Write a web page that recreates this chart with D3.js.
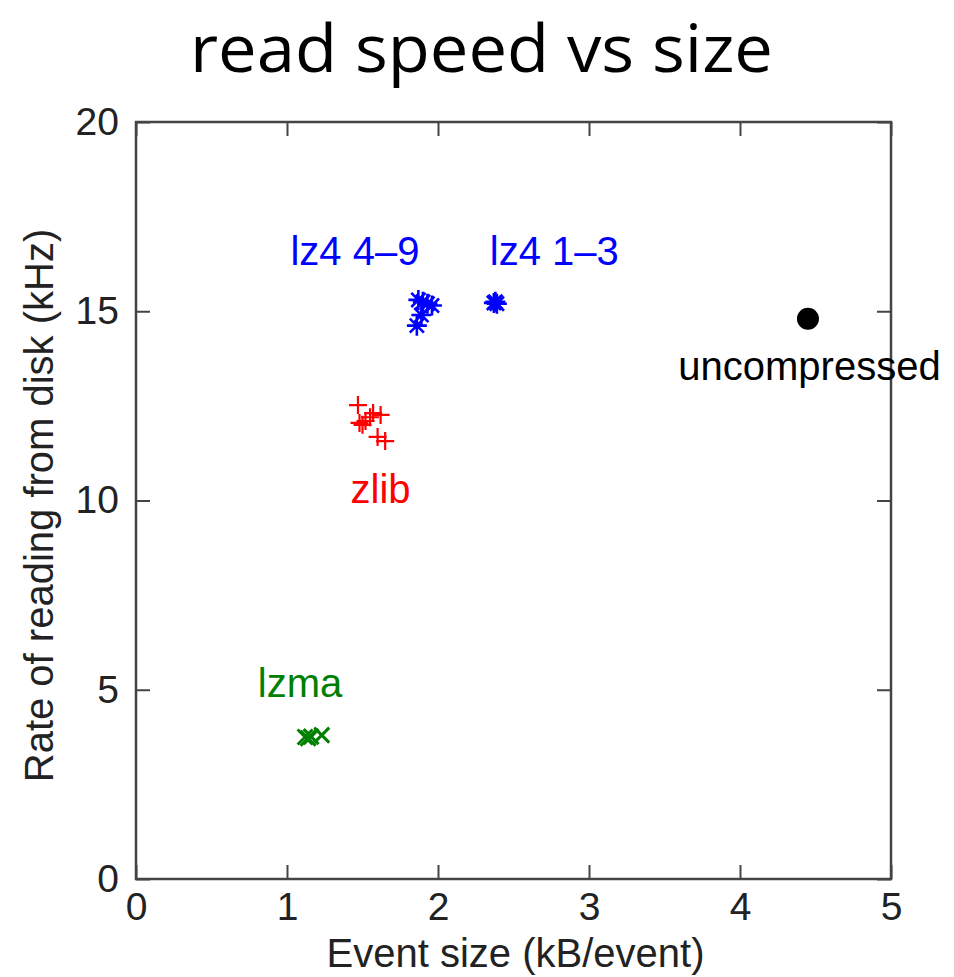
<!DOCTYPE html>
<html>
<head>
<meta charset="utf-8">
<script src="https://cdn.jsdelivr.net/npm/d3@7"></script>
<style>
body { margin: 0; background: #fff; }
svg { display: block; }
</style>
</head>
<body>
<div id="chart"></div>
<script>
// ---- data ----
const title = "read speed vs size";
const xLabel = "Event size (kB/event)";
const yLabel = "Rate of reading from disk (kHz)";
const xTicks = [0, 1, 2, 3, 4, 5];
const yTicks = [0, 5, 10, 15, 20];

const uncompressedX = [4.45];
const uncompressedY = [14.8];

const lz4HighX = [1.87, 1.90, 1.93, 1.96, 1.89, 1.86];
const lz4HighY = [15.30, 15.25, 15.20, 15.15, 14.90, 14.62];

const lz4LowX = [2.37, 2.38, 2.39];
const lz4LowY = [15.22, 15.25, 15.20];

const zlibX = [1.47, 1.57, 1.62, 1.48, 1.52, 1.60, 1.65, 1.55, 1.50];
const zlibY = [12.52, 12.31, 12.26, 12.05, 12.10, 11.68, 11.57, 12.20, 12.00];

const lzmaX = [1.12, 1.14, 1.16, 1.23];
const lzmaY = [3.75, 3.72, 3.76, 3.80];

const labels = [
  { text: "lz4 4\u20139", x: 1.45, y: 16.22, color: "#0000ff" },
  { text: "lz4 1\u20133", x: 2.77, y: 16.22, color: "#0000ff" },
  { text: "uncompressed", x: 4.46, y: 13.18, color: "#000000" },
  { text: "zlib", x: 1.62, y: 9.93, color: "#ff0000" },
  { text: "lzma", x: 1.086, y: 4.81, color: "#008000" }
];

// ---- layout ----
const W = 954, H = 977;
const margin = { left: 136, right: 954 - 891, top: 122, bottom: 977 - 879 };
const svg = d3.select("#chart").append("svg").attr("width", W).attr("height", H);

const x = d3.scaleLinear().domain([0, 5]).range([margin.left, W - margin.right]);
const y = d3.scaleLinear().domain([0, 20]).range([H - margin.bottom, margin.top]);

const tickFont = "Liberation Sans, Arial, sans-serif";

svg.append("text").attr("x", 190).attr("y", 72)
  .attr("textLength", 583).attr("lengthAdjust", "spacingAndGlyphs")
  .attr("font-family", "Open Sans, DejaVu Sans, sans-serif").attr("font-size", 66)
  .attr("font-weight", 500)
  .attr("fill", "#000").text(title);

// axes with inward ticks on all four sides
const tickLen = 14;
const axB = d3.axisBottom(x).tickValues(xTicks).tickSizeInner(-tickLen).tickSizeOuter(0).tickPadding(13).tickFormat(d3.format("d"));
const axT = d3.axisTop(x).tickValues(xTicks).tickSizeInner(-tickLen).tickSizeOuter(0).tickFormat("");
const axL = d3.axisLeft(y).tickValues(yTicks).tickSizeInner(-tickLen).tickSizeOuter(0).tickPadding(17).tickFormat(d3.format("d"));
const axR = d3.axisRight(y).tickValues(yTicks).tickSizeInner(-tickLen).tickSizeOuter(0).tickFormat("");

function style(g) {
  g.select(".domain").remove();
  g.selectAll(".tick line").attr("stroke", "#444").attr("stroke-width", 2);
  g.selectAll(".tick text").attr("font-family", tickFont).attr("font-size", 39).attr("fill", "#222");
}
svg.append("g").attr("transform", `translate(0,${y(0)})`).call(axB).call(style);
svg.append("g").attr("transform", `translate(0,${y(20)})`).call(axT).call(style);
svg.append("g").attr("transform", `translate(${x(0)},0)`).call(axL).call(style);
svg.append("g").attr("transform", `translate(${x(5)},0)`).call(axR).call(style);

svg.append("rect").attr("x", x(0)).attr("y", y(20))
  .attr("width", x(5) - x(0)).attr("height", y(0) - y(20))
  .attr("fill", "none").attr("stroke", "#444").attr("stroke-width", 2.5);

// axis labels
svg.append("text").attr("x", (x(0) + x(5)) / 2 + 2).attr("y", 967).attr("text-anchor", "middle")
  .attr("font-family", tickFont).attr("font-size", 40).attr("fill", "#222").text(xLabel);
svg.append("text").attr("transform", `translate(53,${(y(0) + y(20)) / 2 + 5}) rotate(-90)`)
  .attr("text-anchor", "middle")
  .attr("font-family", tickFont).attr("font-size", 40).attr("fill", "#222").text(yLabel);

// markers
function markerPath(kind, r) {
  const s = r * Math.SQRT1_2;
  const plus = `M${-r},0L${r},0M0,${-r}L0,${r}`;
  const cross = `M${-s},${-s}L${s},${s}M${-s},${s}L${s},${-s}`;
  if (kind === "plus") return plus;
  if (kind === "x") return `M${-r},${-r}L${r},${r}M${-r},${r}L${r},${-r}`;
  return plus + cross;
}
function drawPoints(xs, ys, kind, color, r, w) {
  svg.append("g").selectAll("path").data(xs.map((d, i) => [d, ys[i]])).join("path")
    .attr("transform", d => `translate(${x(d[0])},${y(d[1])})`)
    .attr("d", markerPath(kind, r))
    .attr("fill", "none").attr("stroke", color).attr("stroke-width", w);
}
drawPoints(lz4HighX, lz4HighY, "star", "#0000ff", 10, 2.6);
drawPoints(lz4LowX, lz4LowY, "star", "#0000ff", 10, 2.6);
drawPoints(zlibX, zlibY, "plus", "#ff0000", 9, 2.2);
drawPoints(lzmaX, lzmaY, "x", "#008000", 7.5, 3);

svg.append("g").selectAll("circle").data(uncompressedX.map((d, i) => [d, uncompressedY[i]])).join("circle")
  .attr("cx", d => x(d[0])).attr("cy", d => y(d[1])).attr("r", 11).attr("fill", "#000");

svg.append("g").selectAll("text").data(labels).join("text")
  .attr("x", d => x(d.x)).attr("y", d => y(d.y)).attr("text-anchor", "middle")
  .attr("font-family", tickFont).attr("font-size", 40).attr("fill", d => d.color)
  .text(d => d.text);
</script>
</body>
</html>
